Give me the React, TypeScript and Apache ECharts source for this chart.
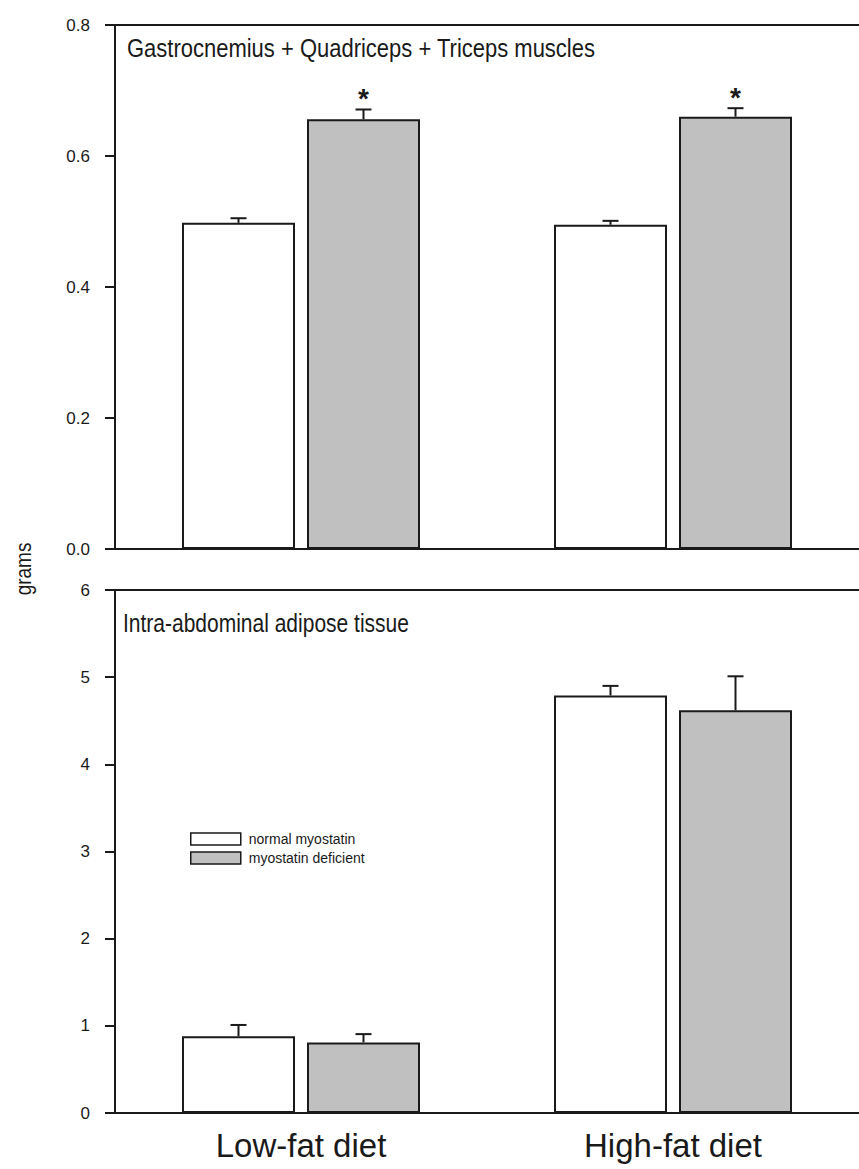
import React, { useEffect, useRef } from "react";
import * as echarts from "echarts";

// ---- data ----
const categories = ["Low-fat diet", "High-fat diet"];
const seriesNames = ["normal myostatin", "myostatin deficient"];

const muscleNormal = [0.498, 0.495];
const muscleNormalErr = [0.007, 0.006];
const muscleDeficient = [0.656, 0.66];
const muscleDeficientErr = [0.015, 0.013];
const muscleDeficientSig = [1, 1];

const adiposeNormal = [0.88, 4.79];
const adiposeNormalErr = [0.13, 0.11];
const adiposeDeficient = [0.81, 4.62];
const adiposeDeficientErr = [0.095, 0.39];
const adiposeDeficientSig = [0, 0];

const muscleTitle = "Gastrocnemius + Quadriceps + Triceps muscles";
const adiposeTitle = "Intra-abdominal adipose tissue";
const yAxisName = "grams";

// ---- style ----
const FONT = "'Liberation Sans', Arial, sans-serif";
const INK = "#1a1a1a";
const GRAY = "#c0c0c0";
const BAR_W = 113;
const BAR_GAP = 12;

export default function App() {
  const ref = useRef<HTMLDivElement>(null);

  useEffect(() => {
    if (!ref.current) return;
    const chart = echarts.init(ref.current, null, { renderer: "svg" });

    const errSeries = (
      name: string,
      xIdx: number,
      yIdx: number,
      vals: number[],
      errs: number[],
      sig: number[] | null,
      side: number
    ) => ({
      type: "custom",
      name: name + " error",
      xAxisIndex: xIdx,
      yAxisIndex: yIdx,
      z: 5,
      silent: true,
      encode: { x: 0, y: 1 },
      data: vals.map((v, i) => [i, v, errs[i], sig ? sig[i] : 0]),
      renderItem: (params: any, api: any) => {
        const idx = api.value(0);
        const v = api.value(1);
        const e = api.value(2);
        const s = api.value(3);
        const base = api.coord([idx, v]);
        const topPt = api.coord([idx, v + e]);
        const x = base[0] + (side * (BAR_W + BAR_GAP)) / 2;
        const top = topPt[1];
        const lineStyle = { stroke: INK, lineWidth: 2 };
        const children: any[] = [
          { type: "line", shape: { x1: x, y1: base[1], x2: x, y2: top }, style: lineStyle },
          { type: "line", shape: { x1: x - 8, y1: top, x2: x + 8, y2: top }, style: lineStyle },
        ];
        if (s) {
          children.push({
            type: "text",
            x: x,
            y: top - 11,
            style: {
              text: "*",
              fill: INK,
              font: `bold 28px ${FONT}`,
              align: "center",
              verticalAlign: "middle",
            },
          });
        }
        return { type: "group", children };
      },
    });

    const barSeries = (name: string, xIdx: number, yIdx: number, vals: number[], color: string) => ({
      type: "bar",
      name,
      xAxisIndex: xIdx,
      yAxisIndex: yIdx,
      data: vals,
      barWidth: BAR_W,
      barGap: (BAR_GAP / BAR_W) * 100 + "%",
      itemStyle: { color, borderColor: INK, borderWidth: 2 },
    });

    const catAxis = (gridIndex: number, showLabels: boolean) => ({
      type: "category",
      gridIndex,
      data: categories,
      position: "bottom",
      axisLine: { show: true, lineStyle: { color: INK, width: 2 } },
      axisTick: { show: false },
      axisLabel: {
        show: showLabels,
        color: INK,
        fontFamily: FONT,
        fontSize: 33,
        margin: 16,
      },
      splitLine: { show: false },
    });
    const frameAxis = (gridIndex: number) => ({
      type: "category",
      gridIndex,
      data: categories,
      position: "top",
      axisLine: { show: true, lineStyle: { color: INK, width: 2 } },
      axisTick: { show: false },
      axisLabel: { show: false },
      splitLine: { show: false },
    });
    const valAxis = (gridIndex: number, max: number, interval: number, decimals: number) => ({
      type: "value",
      gridIndex,
      min: 0,
      max,
      interval,
      axisLine: { show: true, lineStyle: { color: INK, width: 2 } },
      axisTick: { show: true, inside: false, length: 10, lineStyle: { color: INK, width: 2 } },
      axisLabel: {
        color: INK,
        fontFamily: FONT,
        fontSize: 17,
        margin: 25,
        formatter: (v: number) => v.toFixed(decimals),
      },
      splitLine: { show: false },
    });

    const titleText = (text: string, x: number, y: number, size: number) => ({
      type: "text",
      x,
      y,
      scaleY: 1.2,
      style: {
        text,
        fill: INK,
        font: `${size}px ${FONT}`,
        align: "left",
        verticalAlign: "middle",
      },
    });

    chart.setOption({
      animation: false,
      backgroundColor: "#ffffff",
      textStyle: { fontFamily: FONT },
      legend: {
        data: seriesNames,
        orient: "vertical",
        left: 190,
        top: 832,
        padding: 0,
        itemWidth: 50,
        itemHeight: 12,
        itemGap: 5,
        icon: "rect",
        selectedMode: false,
        itemStyle: { borderColor: INK, borderWidth: 1.5 },
        textStyle: { fontFamily: FONT, fontSize: 14, color: INK, padding: [0, 0, 0, 3] },
      },
      grid: [
        { left: 115, top: 25, width: 752, height: 524 },
        { left: 115, top: 590, width: 752, height: 523 },
      ],
      xAxis: [catAxis(0, false), frameAxis(0), catAxis(1, true), frameAxis(1)],
      yAxis: [valAxis(0, 0.8, 0.2, 1), valAxis(1, 6, 1, 0)],
      graphic: [
        titleText(muscleTitle, 127, 48, 22),
        titleText(adiposeTitle, 123, 623, 21),
        {
          type: "text",
          x: 23,
          y: 569,
          rotation: Math.PI / 2,
          scaleY: 1.2,
          style: {
            text: yAxisName,
            fill: INK,
            font: `19px ${FONT}`,
            align: "center",
            verticalAlign: "middle",
          },
        },
      ],
      series: [
        barSeries(seriesNames[0], 0, 0, muscleNormal, "#ffffff"),
        barSeries(seriesNames[1], 0, 0, muscleDeficient, GRAY),
        barSeries(seriesNames[0], 2, 1, adiposeNormal, "#ffffff"),
        barSeries(seriesNames[1], 2, 1, adiposeDeficient, GRAY),
        errSeries(seriesNames[0], 0, 0, muscleNormal, muscleNormalErr, null, -1),
        errSeries(seriesNames[1], 0, 0, muscleDeficient, muscleDeficientErr, muscleDeficientSig, 1),
        errSeries(seriesNames[0], 2, 1, adiposeNormal, adiposeNormalErr, null, -1),
        errSeries(seriesNames[1], 2, 1, adiposeDeficient, adiposeDeficientErr, adiposeDeficientSig, 1),
      ],
    });

    return () => chart.dispose();
  }, []);

  return (
    <div
      ref={ref}
      style={{ position: "absolute", left: 0, top: 0, width: 859, height: 1169, background: "#fff" }}
    />
  );
}
